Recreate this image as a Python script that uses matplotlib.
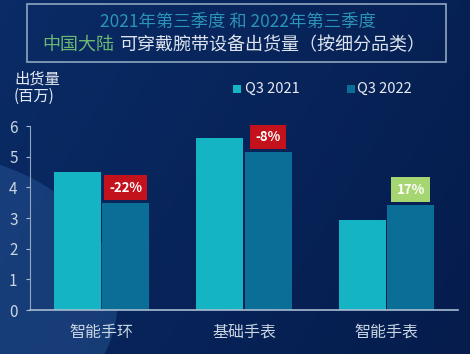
import numpy as np
import matplotlib.pyplot as plt
from matplotlib.patches import Rectangle, Circle

plt.rcParams['font.family'] = ['Noto Sans CJK SC', 'DejaVu Sans']

categories = ['智能手环', '基础手表', '智能手表']
q3_2021 = [4.5, 5.6, 2.94]
q3_2022 = [3.5, 5.15, 3.44]
changes = ['-22%', '-8%', '17%']
y_ticks = [0, 1, 2, 3, 4, 5, 6]

c2021 = '#14b4c4'
c2022 = '#0b6e96'
text_col = '#c9d5e3'

fig = plt.figure(figsize=(4.7, 3.54), dpi=100)

# background gradient
bg = fig.add_axes([0, 0, 1, 1])
bg.set_axis_off()
xx, yy = np.meshgrid(np.linspace(0, 1, 200), np.linspace(0, 1, 150))
shade = 0.55 * (1 - xx) + 0.25 * (1 - yy)
top = np.array([0.04, 0.17, 0.40])
bot = np.array([0.02, 0.11, 0.30])
img = bot + (top - bot) * shade[..., None] / shade.max()
bg.imshow(img, extent=[0, 1, 0, 1], origin='upper', aspect='auto')
bg.add_patch(Circle((-0.17, 0.15), 0.42, transform=bg.transAxes,
                    color='#2a5a9a', alpha=0.45, lw=0))
bg.set_xlim(0, 1)
bg.set_ylim(0, 1)

# title box
bg.add_patch(Rectangle((0.058, 0.826), 0.89, 0.163, transform=bg.transAxes,
                       fill=False, ec='#8fa6c0', lw=1.2))
bg.text(0.507, 0.937, '2021年第三季度 和 2022年第三季度', color='#2b93b8',
        fontsize=12.5, ha='center', va='center')
bg.text(0.243, 0.873, '中国大陆', color='#6cb873', fontsize=13,
        ha='right', va='center')
bg.text(0.256, 0.873, '可穿戴腕带设备出货量（按细分品类）', color='#dde4ee',
        fontsize=13, ha='left', va='center')

# y label
bg.text(0.03, 0.752, '出货量\n(百万)', color='#e6ebf2', fontsize=11,
        ha='left', va='center', linespacing=1.0, fontweight='medium')

# legend
bg.add_patch(Rectangle((0.496, 0.737), 0.017, 0.022, transform=bg.transAxes,
                       color=c2021, lw=0))
bg.text(0.521, 0.748, 'Q3 2021', color='#e6ebf2', fontsize=10.5, va='center')
bg.add_patch(Rectangle((0.738, 0.737), 0.017, 0.022, transform=bg.transAxes,
                       color=c2022, lw=0))
bg.text(0.76, 0.748, 'Q3 2022', color='#e6ebf2', fontsize=10.5, va='center')

ax = fig.add_axes([0.064, 0.124, 0.91, 0.52])
ax.patch.set_alpha(0)
x = np.arange(len(categories))
w = 0.33
ax.bar(x - w / 2 - 0.005, q3_2021, w, color=c2021)
bars = ax.bar(x + w / 2 + 0.005, q3_2022, w, color=c2022)

for b, txt in zip(bars, changes):
    fc = '#a6d672' if not txt.startswith('-') else '#c3121c'
    ax.annotate(txt, (b.get_x() + b.get_width() / 2, b.get_height()),
                xytext=(0, 15), textcoords='offset pixels',
                ha='center', va='center', color='white', fontsize=9.5,
                fontweight='bold',
                bbox=dict(boxstyle='square,pad=0.4', fc=fc, ec='none'))

ax.set_xlim(-0.5, 2.5)
ax.set_ylim(0, 6)
ax.set_yticks(y_ticks)
ax.set_xticks(x)
ax.set_xticklabels(categories, fontsize=11.5, color=text_col)
ax.tick_params(axis='y', colors='#a8bcd2', labelcolor=text_col, labelsize=11,
               length=3, pad=6)
ax.tick_params(axis='x', length=0, pad=10)
for s in ['top', 'right']:
    ax.spines[s].set_visible(False)
ax.spines['left'].set_color('#8fa6c0')
ax.spines['bottom'].set_color('#a8bcd2')
ax.spines['bottom'].set_linewidth(1.2)

fig.savefig('out.png', dpi=100)
